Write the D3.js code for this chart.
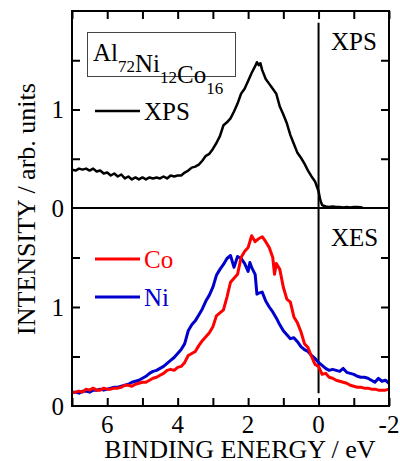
<!DOCTYPE html>
<html>
<head>
<meta charset="utf-8">
<script src="https://cdn.jsdelivr.net/npm/d3@7"></script>
<style>
    body { margin: 0; background: #fff; }
</style>
</head>
<body>
<div id="chart"></div>
<script>
// binding energy (eV), intensity (arb. units)
var xps = [[7.0,0.39],[6.9,0.38],[6.8,0.40],[6.7,0.39],[6.6,0.40],[6.5,0.38],[6.4,0.40],[6.3,0.37],[6.2,0.38],[6.1,0.35],
    [6.0,0.36],[5.9,0.33],[5.8,0.35],[5.7,0.32],[5.6,0.34],[5.5,0.30],[5.4,0.32],[5.3,0.29],[5.2,0.31],[5.1,0.29],
    [5.0,0.31],[4.9,0.29],[4.8,0.31],[4.7,0.30],[4.6,0.31],[4.5,0.30],[4.4,0.32],[4.3,0.30],[4.2,0.33],[4.1,0.32],
    [4.0,0.33],[3.9,0.33],[3.8,0.36],[3.7,0.38],[3.6,0.41],[3.5,0.42],[3.4,0.44],[3.3,0.48],[3.2,0.53],[3.1,0.55],
    [3.0,0.60],[2.9,0.66],[2.8,0.73],[2.7,0.84],[2.6,0.87],[2.5,0.91],[2.4,0.98],[2.3,1.06],[2.2,1.16],[2.1,1.21],
    [2.0,1.29],[1.9,1.37],[1.8,1.44],[1.75,1.48],[1.7,1.45],[1.65,1.47],[1.6,1.40],[1.5,1.31],[1.4,1.26],[1.3,1.21],
    [1.2,1.16],[1.1,1.03],[1.0,0.95],[0.9,0.86],[0.8,0.74],[0.7,0.65],[0.6,0.56],[0.5,0.51],[0.4,0.45],[0.3,0.38],
    [0.2,0.32],[0.1,0.27],[0.0,0.17],[-0.05,0.08],[-0.1,0.03],[-0.2,0.015],[-0.3,0.01],[-0.4,0.015],[-0.5,0.01],
    [-0.6,0.01],[-0.7,0.005],[-0.8,0.01],[-0.9,0.005],[-1.0,0.01],[-1.1,0.01],[-1.25,0.005]];

var co = [[7.0,0.13],[6.9,0.14],[6.8,0.15],[6.7,0.14],[6.6,0.17],[6.5,0.16],[6.4,0.18],[6.3,0.16],[6.2,0.16],[6.1,0.18],
    [6.0,0.17],[5.9,0.17],[5.8,0.18],[5.7,0.18],[5.6,0.19],[5.5,0.21],[5.4,0.21],[5.3,0.20],[5.2,0.22],[5.1,0.23],
    [5.0,0.24],[4.9,0.24],[4.8,0.26],[4.7,0.28],[4.6,0.29],[4.5,0.31],[4.4,0.33],[4.3,0.36],[4.2,0.37],[4.1,0.36],
    [4.0,0.39],[3.9,0.40],[3.8,0.44],[3.7,0.51],[3.6,0.53],[3.5,0.55],[3.4,0.61],[3.3,0.66],[3.2,0.70],[3.1,0.74],
    [3.0,0.80],[2.9,0.91],[2.8,0.94],[2.7,0.97],[2.6,1.10],[2.5,1.25],[2.4,1.29],[2.3,1.33],[2.2,1.50],[2.1,1.56],
    [2.0,1.60],[1.9,1.72],[1.8,1.66],[1.7,1.69],[1.6,1.71],[1.5,1.66],[1.4,1.60],[1.3,1.50],[1.25,1.33],[1.2,1.44],
    [1.1,1.38],[1.0,1.20],[0.9,1.08],[0.8,1.05],[0.7,0.90],[0.6,0.84],[0.5,0.75],[0.4,0.63],[0.3,0.59],[0.2,0.50],
    [0.1,0.42],[0.0,0.40],[-0.1,0.32],[-0.2,0.33],[-0.3,0.29],[-0.4,0.28],[-0.5,0.26],[-0.6,0.25],[-0.7,0.24],
    [-0.8,0.23],[-0.9,0.21],[-1.0,0.20],[-1.1,0.19],[-1.2,0.19],[-1.3,0.18],[-1.4,0.18],[-1.5,0.17],[-1.6,0.17],
    [-1.7,0.16],[-1.8,0.16],[-1.9,0.16],[-2.0,0.17]];

var ni = [[7.0,0.14],[6.9,0.14],[6.8,0.13],[6.7,0.15],[6.6,0.15],[6.5,0.14],[6.4,0.16],[6.3,0.16],[6.2,0.17],[6.1,0.16],
    [6.0,0.17],[5.9,0.18],[5.8,0.19],[5.7,0.19],[5.6,0.20],[5.5,0.21],[5.4,0.22],[5.3,0.24],[5.2,0.25],[5.1,0.26],
    [5.0,0.28],[4.9,0.30],[4.8,0.33],[4.7,0.35],[4.6,0.36],[4.5,0.38],[4.4,0.40],[4.3,0.43],[4.2,0.46],[4.1,0.49],
    [4.0,0.53],[3.9,0.57],[3.8,0.63],[3.7,0.76],[3.6,0.82],[3.5,0.86],[3.4,0.92],[3.3,0.98],[3.2,1.06],[3.1,1.12],
    [3.0,1.20],[2.9,1.32],[2.8,1.38],[2.7,1.43],[2.6,1.49],[2.5,1.52],[2.4,1.40],[2.3,1.51],[2.2,1.49],[2.1,1.44],
    [2.0,1.36],[1.95,1.45],[1.9,1.40],[1.8,1.33],[1.75,1.13],[1.7,1.14],[1.6,1.15],[1.5,1.06],[1.4,1.00],[1.3,0.95],
    [1.2,0.89],[1.1,0.82],[1.0,0.76],[0.9,0.72],[0.8,0.68],[0.7,0.69],[0.6,0.65],[0.5,0.60],[0.4,0.57],[0.3,0.55],
    [0.2,0.51],[0.1,0.48],[0.0,0.44],[-0.1,0.41],[-0.2,0.38],[-0.3,0.36],[-0.4,0.37],[-0.5,0.36],[-0.6,0.35],
    [-0.7,0.38],[-0.8,0.34],[-0.9,0.33],[-1.0,0.32],[-1.1,0.30],[-1.2,0.29],[-1.3,0.29],[-1.4,0.28],[-1.5,0.26],
    [-1.6,0.24],[-1.7,0.28],[-1.8,0.25],[-1.9,0.26],[-2.0,0.23]];

var xTicks = [7, 6, 5, 4, 3, 2, 1, 0, -1, -2],
    xLabels = [6, 4, 2, 0, -2],
    yTicks = [0.5, 1, 1.5],
    yLabels = [0, 1];

(function() {
    var W = 400, H = 461,
        m = {left: 72, right: 389, top: 11, mid: 208, bottom: 406};

    var svg = d3.select("#chart").append("svg")
        .attr("width", W)
        .attr("height", H);

    var x = d3.scaleLinear().domain([7, -2]).range([m.left, m.right]);
    var yTop = d3.scaleLinear().domain([0, 2]).range([m.mid, m.top]);
    var yBot = d3.scaleLinear().domain([0, 2]).range([m.bottom, m.mid]);

    var fs = 25;

    // ticks point inward
    function noDomain(g) {
        g.select(".domain").remove();
        g.selectAll(".tick line").attr("stroke", "#000").attr("stroke-width", 2);
    }

    svg.append("g").attr("transform", "translate(0," + m.bottom + ")")
        .call(d3.axisBottom(x).tickValues(xTicks).tickSize(-8).tickFormat(""))
        .call(noDomain);
    svg.append("g").attr("transform", "translate(0," + m.top + ")")
        .call(d3.axisTop(x).tickValues(xTicks).tickSize(-8).tickFormat(""))
        .call(noDomain);

    [yTop, yBot].forEach(function(y) {
        svg.append("g").attr("transform", "translate(" + m.left + ",0)")
            .call(d3.axisLeft(y).tickValues(yTicks).tickSize(-8).tickFormat(""))
            .call(noDomain);
        svg.append("g").attr("transform", "translate(" + m.right + ",0)")
            .call(d3.axisRight(y).tickValues(yTicks).tickSize(-8).tickFormat(""))
            .call(noDomain);
        svg.append("g").selectAll("text").data(yLabels).join("text")
            .attr("x", m.left - 8)
            .attr("y", d => y(d))
            .attr("dy", "0.35em")
            .attr("text-anchor", "end")
            .attr("font-size", fs)
            .text(d => d);
    });

    svg.append("g").selectAll("text").data(xLabels).join("text")
        .attr("x", d => x(d))
        .attr("y", 433)
        .attr("text-anchor", "middle")
        .attr("font-size", fs)
        .text(d => d);

    // zero line through both panels
    svg.append("line")
        .attr("x1", x(0)).attr("x2", x(0))
        .attr("y1", yTop(1.88)).attr("y2", yBot(0.13))
        .attr("stroke", "#000").attr("stroke-width", 2);

    var line = function(y) {
        return d3.line().x(d => x(d[0])).y(d => y(d[1]));
    };

    svg.append("path").datum(xps)
        .attr("d", line(yTop))
        .attr("fill", "none").attr("stroke", "#000").attr("stroke-width", 2.5)
        .attr("stroke-linejoin", "round");
    svg.append("path").datum(ni)
        .attr("d", line(yBot))
        .attr("fill", "none").attr("stroke", "#0000cc").attr("stroke-width", 3)
        .attr("stroke-linejoin", "round");
    svg.append("path").datum(co)
        .attr("d", line(yBot))
        .attr("fill", "none").attr("stroke", "#ff0000").attr("stroke-width", 3)
        .attr("stroke-linejoin", "round");

    // frame
    svg.append("rect")
        .attr("x", m.left).attr("y", m.top)
        .attr("width", m.right - m.left).attr("height", m.bottom - m.top)
        .attr("fill", "none").attr("stroke", "#000").attr("stroke-width", 2);
    svg.append("line")
        .attr("x1", m.left).attr("x2", m.right)
        .attr("y1", m.mid).attr("y2", m.mid)
        .attr("stroke", "#000").attr("stroke-width", 2);

    // panel labels
    svg.append("text").attr("x", 331).attr("y", 50).attr("font-size", fs).text("XPS");
    svg.append("text").attr("x", 331).attr("y", 246).attr("font-size", fs).text("XES");

    // composition box
    svg.append("rect")
        .attr("x", 87.5).attr("y", 32.5).attr("width", 148).attr("height", 44)
        .attr("fill", "none").attr("stroke", "#444").attr("stroke-width", 1);
    var comp = svg.append("text").attr("x", 93).attr("y", 61).attr("font-size", fs);
    [["Al", "72"], ["Ni", "12"], ["Co", "16"]].forEach(function(p) {
        comp.append("tspan").attr("dy", 0).text(p[0]);
        comp.append("tspan").attr("dy", 11).attr("font-size", 17).text(p[1]);
        comp.append("tspan").attr("dy", -11).text("");
    });

    // legends
    var legends = [
        {name: "XPS", color: "#000", y: 111, w: 2.5},
        {name: "Co", color: "#ff0000", y: 259, w: 3},
        {name: "Ni", color: "#0000cc", y: 297, w: 3}
    ];
    legends.forEach(function(l) {
        svg.append("line")
            .attr("x1", 95).attr("x2", 140)
            .attr("y1", l.y).attr("y2", l.y)
            .attr("stroke", l.color).attr("stroke-width", l.w);
        svg.append("text")
            .attr("x", 144).attr("y", l.y + 9)
            .attr("font-size", fs)
            .attr("fill", l.color)
            .text(l.name);
    });

    // axis titles
    svg.append("text")
        .attr("x", 240).attr("y", 458)
        .attr("text-anchor", "middle")
        .attr("font-size", 26)
        .text("BINDING ENERGY / eV");
    svg.append("text")
        .attr("transform", "translate(35,209) rotate(-90)")
        .attr("text-anchor", "middle")
        .attr("font-size", 26)
        .text("INTENSITY / arb. units");

    svg.selectAll("text").style("font-family", "'Liberation Serif'");
})();
</script>
</body>
</html>
